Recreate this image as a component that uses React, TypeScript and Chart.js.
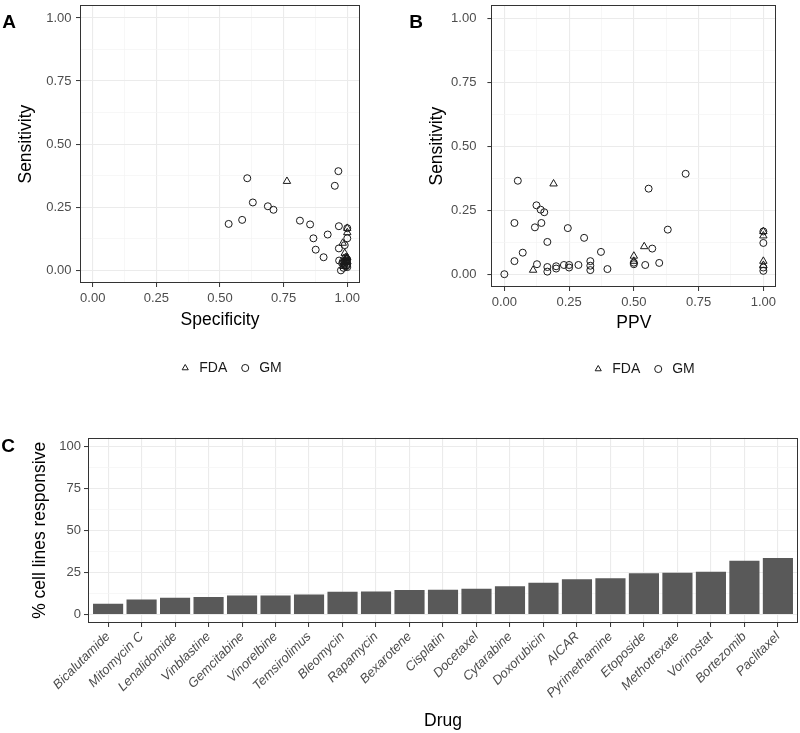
import React, { useEffect, useRef } from "react";
import { Chart, registerables } from "chart.js";

Chart.register(...registerables);

const FONT = "'Liberation Sans', Arial, Helvetica, sans-serif";

// ---------- Panel A & B data ----------
const fdaSpecificity = [0.763, 1.0, 1.0, 0.982, 0.99, 0.995, 1.0, 1.0, 0.985];
const fdaSensitivityA = [0.353, 0.167, 0.15, 0.108, 0.068, 0.051, 0.051, 0.035, 0.016];
const fdaPPV = [0.19, 1.0, 1.0, 0.54, 0.5, 0.5, 1.0, 1.0, 0.111];
const fdaSensitivityB = [0.353, 0.167, 0.15, 0.108, 0.071, 0.051, 0.051, 0.035, 0.016];

const gmSpecificity = [
  0.975, 0.587, 0.907, 0.607, 0.876, 0.534, 0.629, 0.968, 0.688, 0.814,
  0.71, 0.867, 0.98, 0.985, 0.985, 0.988, 0.983, 0.854, 0.99, 0.99,
  0.992, 0.923, 0.993, 0.995, 0.995, 0.967, 0.997, 0.998, 0.998, 0.998,
  0.951, 0.99, 0.999, 0.967, 0.965, 1.0, 1.0, 1.0, 1.0,
];
const gmSensitivityA = [
  0.0, 0.2, 0.052, 0.365, 0.082, 0.184, 0.269, 0.039, 0.254, 0.197,
  0.24, 0.127, 0.028, 0.01, 0.031, 0.022, 0.036, 0.182, 0.036, 0.026,
  0.036, 0.142, 0.051, 0.033, 0.016, 0.087, 0.02, 0.039, 0.045, 0.036,
  0.335, 0.1, 0.044, 0.175, 0.393, 0.167, 0.127, 0.026, 0.013,
];
const gmPPV = [
  0.0, 0.039, 0.039, 0.052, 0.071, 0.118, 0.124, 0.126, 0.14, 0.143,
  0.154, 0.166, 0.166, 0.166, 0.2, 0.2, 0.23, 0.245, 0.25, 0.25,
  0.286, 0.308, 0.332, 0.332, 0.332, 0.373, 0.398, 0.5, 0.5, 0.544,
  0.557, 0.571, 0.598, 0.631, 0.7, 1.0, 1.0, 1.0, 1.0,
];
const gmSensitivityB = [
  0.0, 0.2, 0.051, 0.365, 0.084, 0.183, 0.269, 0.039, 0.252, 0.2,
  0.242, 0.126, 0.028, 0.01, 0.031, 0.022, 0.036, 0.18, 0.036, 0.026,
  0.036, 0.142, 0.051, 0.033, 0.016, 0.087, 0.02, 0.039, 0.045, 0.036,
  0.334, 0.1, 0.044, 0.174, 0.392, 0.167, 0.122, 0.026, 0.013,
];

const scatterTicks = [0, 0.125, 0.25, 0.375, 0.5, 0.625, 0.75, 0.875, 1];

// ---------- Panel C data ----------
const drugs = [
  "Bicalutamide", "Mitomycin C", "Lenalidomide", "Vinblastine", "Gemcitabine",
  "Vinorelbine", "Temsirolimus", "Bleomycin", "Rapamycin", "Bexarotene",
  "Cisplatin", "Docetaxel", "Cytarabine", "Doxorubicin", "AICAR",
  "Pyrimethamine", "Etoposide", "Methotrexate", "Vorinostat", "Bortezomib", "Paclitaxel",
];
const pctResponsive = [
  6.4, 9.0, 10.0, 10.4, 11.3, 11.3, 11.9, 13.5, 13.7, 14.6,
  14.8, 15.4, 16.8, 18.9, 20.9, 21.5, 24.6, 24.8, 25.4, 32.0, 33.6,
];
const barTicks = [0, 12.5, 25, 37.5, 50, 62.5, 75, 87.5, 100];

// ---------- helpers ----------
const isMajorQ = (v: number) => Math.abs(v * 4 - Math.round(v * 4)) < 1e-9;
const isMajor25 = (v: number) => Math.abs(v / 25 - Math.round(v / 25)) < 1e-9;

function framePlugin(label: string, lx: number, ly: number, legendPos?: { x: number; y: number }) {
  return {
    id: "frameAndLabel",
    afterLayout(chart: any) {
      if (!legendPos || !chart.legend) return;
      const lg = chart.legend;
      const w = lg.right - lg.left;
      const h = lg.bottom - lg.top;
      lg.left = legendPos.x - w / 2;
      lg.right = lg.left + w;
      const pad = lg.options.labels.padding;
      const fs = lg.options.labels.font.size;
      lg.top = legendPos.y - pad - fs / 2;
      lg.bottom = lg.top + h;
    },
    afterDatasetsDraw(chart: any) {
      const { ctx, chartArea: a } = chart;
      ctx.save();
      ctx.strokeStyle = "#333333";
      ctx.lineWidth = 1;
      ctx.strokeRect(Math.round(a.left) + 0.5, Math.round(a.top) + 0.5, Math.round(a.right - a.left) - 1, Math.round(a.bottom - a.top) - 1);
      ctx.restore();
    },
    afterDraw(chart: any) {
      const ctx = chart.ctx;
      ctx.save();
      ctx.fillStyle = "#000";
      ctx.font = `bold 19px ${FONT}`;
      ctx.textAlign = "center";
      ctx.textBaseline = "middle";
      ctx.fillText(label, lx, ly);
      ctx.restore();
    },
  };
}

type ScatterProps = {
  fx: number[]; fy: number[]; gx: number[]; gy: number[];
  xTitle: string; label: string; labelX: number; labelY: number;
  padTop: number; padRight: number; yWidth: number; xHeight: number;
  yTitlePad: number; xTitlePad: number; yTickPad: number; xTickPad: number;
  legendX: number; legendY: number;
};

function ScatterPanel(p: ScatterProps) {
  const ref = useRef<HTMLCanvasElement>(null);
  useEffect(() => {
    if (!ref.current) return;
    const gridColor = (c: any) => (c.tick && isMajorQ(c.tick.value) ? "#EBEBEB" : "#F4F4F4");
    const gridWidth = (c: any) => (c.tick && isMajorQ(c.tick.value) ? 1.1 : 0.7);
    const tickColor = (c: any) => (c.tick && isMajorQ(c.tick.value) ? "#333333" : "rgba(0,0,0,0)");
    const setTicks = (scale: any) => {
      scale.ticks = scatterTicks.map((v) => ({ value: v }));
    };
    const fmt = (v: any) => (isMajorQ(Number(v)) ? Number(v).toFixed(2) : "");
    const chart = new Chart(ref.current, {
      type: "scatter",
      data: {
        datasets: [
          {
            label: "FDA",
            data: p.fx.map((x, i) => ({ x, y: p.fy[i] })),
            pointStyle: "triangle",
            pointRadius: 4.3,
            pointBorderWidth: 1,
            pointBorderColor: "#1a1a1a",
            pointBackgroundColor: "rgba(0,0,0,0)",
            borderColor: "#1a1a1a",
            backgroundColor: "rgba(0,0,0,0)",
          },
          {
            label: "GM",
            data: p.gx.map((x, i) => ({ x, y: p.gy[i] })),
            pointStyle: "circle",
            pointRadius: 3.5,
            pointBorderWidth: 1,
            pointBorderColor: "#1a1a1a",
            pointBackgroundColor: "rgba(0,0,0,0)",
            borderColor: "#1a1a1a",
            backgroundColor: "rgba(0,0,0,0)",
          },
        ],
      },
      options: {
        animation: false,
        responsive: false,
        devicePixelRatio: 1,
        layout: { padding: { top: p.padTop, right: p.padRight, left: 0, bottom: 0 } },
        plugins: {
          tooltip: { enabled: false },
          legend: {
            position: "bottom",
            labels: {
              usePointStyle: true,
              boxWidth: 14,
              boxHeight: 5,
              padding: 11,
              color: "#1a1a1a",
              font: { family: FONT, size: 14 },
            },
          },
        },
        scales: {
          x: {
            type: "linear",
            min: -0.05,
            max: 1.05,
            afterBuildTicks: setTicks,
            afterFit: (s: any) => { s.height = p.xHeight; s.paddingLeft = 0; s.paddingRight = 0; },
            ticks: { callback: fmt, color: "#4D4D4D", font: { family: FONT, size: 13 }, padding: p.xTickPad, maxRotation: 0, autoSkip: false },
            grid: { color: gridColor, lineWidth: gridWidth, tickColor, tickLength: 4, tickWidth: 1 },
            border: { display: false },
            title: { display: true, text: p.xTitle, color: "#000", font: { family: FONT, size: 17.5 }, padding: { top: 0, bottom: p.xTitlePad } },
          },
          y: {
            type: "linear",
            min: -0.05,
            max: 1.05,
            afterBuildTicks: setTicks,
            afterFit: (s: any) => { s.width = p.yWidth; s.paddingTop = 0; s.paddingBottom = 0; },
            ticks: { callback: fmt, color: "#4D4D4D", font: { family: FONT, size: 13 }, padding: p.yTickPad, autoSkip: false },
            grid: { color: gridColor, lineWidth: gridWidth, tickColor, tickLength: 4, tickWidth: 1 },
            border: { display: false },
            title: { display: true, text: "Sensitivity", color: "#000", font: { family: FONT, size: 17.5 }, padding: { top: p.yTitlePad, bottom: 0 } },
          },
        },
      },
      plugins: [framePlugin(p.label, p.labelX, p.labelY, { x: p.legendX, y: p.legendY })],
    } as any);
    return () => chart.destroy();
  }, []);
  return <canvas ref={ref} width={400} height={400} style={{ display: "block" }} />;
}

function BarPanel() {
  const ref = useRef<HTMLCanvasElement>(null);
  useEffect(() => {
    if (!ref.current) return;
    const yGridColor = (c: any) => (c.tick && isMajor25(c.tick.value) ? "#EBEBEB" : "#F4F4F4");
    const yGridWidth = (c: any) => (c.tick && isMajor25(c.tick.value) ? 1.1 : 0.7);
    const yTickColor = (c: any) => (c.tick && isMajor25(c.tick.value) ? "#333333" : "rgba(0,0,0,0)");
    const chart = new Chart(ref.current, {
      type: "bar",
      data: {
        datasets: [
          {
            label: "% cell lines responsive",
            data: pctResponsive.map((v, i) => ({ x: i, y: v })),
            backgroundColor: "#595959",
            borderWidth: 0,
            categoryPercentage: 1,
            barPercentage: 0.9,
          },
        ],
      },
      options: {
        animation: false,
        responsive: false,
        devicePixelRatio: 1,
        layout: { padding: { top: 12.7, right: 2, left: 0, bottom: 0 } },
        plugins: { legend: { display: false }, tooltip: { enabled: false } },
        scales: {
          x: {
            type: "linear",
            offset: false,
            min: -0.6,
            max: drugs.length - 1 + 0.6,
            afterBuildTicks: (s: any) => { s.ticks = drugs.map((_, i) => ({ value: i })); },
            afterFit: (s: any) => { s.height = 110; s.paddingLeft = 0; s.paddingRight = 0; },
            ticks: {
              callback: (v: any) => drugs[Math.round(Number(v))] ?? "",
              color: "#4D4D4D",
              font: { family: FONT, size: 13, style: "italic" },
              minRotation: 45,
              maxRotation: 45,
              autoSkip: false,
              padding: 2,
            },
            grid: { color: "#EBEBEB", lineWidth: 1.1, tickColor: "#333333", tickLength: 4, tickWidth: 1, offset: false },
            border: { display: false },
            title: { display: true, text: "Drug", color: "#000", font: { family: FONT, size: 17.5 }, padding: { top: 0, bottom: 1 } },
          },
          y: {
            type: "linear",
            min: -5,
            max: 105,
            afterBuildTicks: (s: any) => { s.ticks = barTicks.map((v) => ({ value: v })); },
            afterFit: (s: any) => { s.width = 88; s.paddingTop = 0; s.paddingBottom = 0; },
            ticks: {
              callback: (v: any) => (isMajor25(Number(v)) ? String(v) : ""),
              color: "#4D4D4D",
              font: { family: FONT, size: 13 },
              padding: 3,
              autoSkip: false,
            },
            grid: { color: yGridColor, lineWidth: yGridWidth, tickColor: yTickColor, tickLength: 4, tickWidth: 1 },
            border: { display: false },
            title: { display: true, text: "% cell lines responsive", color: "#000", font: { family: FONT, size: 17.5 }, padding: { top: 29.5, bottom: 0 } },
          },
        },
      },
      plugins: [framePlugin("C", 8, 21.5)],
    } as any);
    return () => chart.destroy();
  }, []);
  return <canvas ref={ref} width={800} height={308} style={{ display: "block" }} />;
}

export default function App() {
  return (
    <div style={{ position: "absolute", left: 0, top: 0, width: 800, height: 733, background: "#fff" }}>
      <div style={{ position: "absolute", left: 0, top: 0 }}>
        <ScatterPanel
          fx={fdaSpecificity} fy={fdaSensitivityA} gx={gmSpecificity} gy={gmSensitivityA}
          xTitle="Specificity" label="A" labelX={9} labelY={23}
          padTop={0} padRight={40} yWidth={80} xHeight={82}
          yTitlePad={15.5} xTitlePad={34.5} yTickPad={4.5} xTickPad={3.5}
          legendX={230} legendY={368}
        />
      </div>
      <div style={{ position: "absolute", left: 400, top: 0 }}>
        <ScatterPanel
          fx={fdaPPV} fy={fdaSensitivityB} gx={gmPPV} gy={gmSensitivityB}
          xTitle="PPV" label="B" labelX={16} labelY={23}
          padTop={0} padRight={23.7} yWidth={91.4} xHeight={78}
          yTitlePad={26.8} xTitlePad={31.1} yTickPad={11} xTickPad={4}
          legendX={243} legendY={369}
        />
      </div>
      <div style={{ position: "absolute", left: 0, top: 425 }}>
        <BarPanel />
      </div>
    </div>
  );
}
